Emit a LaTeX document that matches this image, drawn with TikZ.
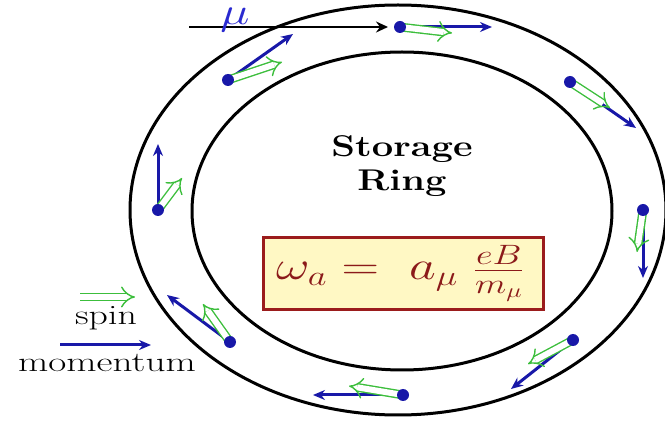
\RequirePackage{fix-cm}
\documentclass[tikz,border=0pt]{standalone}
\usepackage{amsmath}
\usetikzlibrary{arrows.meta}
\definecolor{mblue}{HTML}{1818A8}
\definecolor{mugreen}{HTML}{3CBE3C}
\definecolor{boxred}{HTML}{9B1C1C}
\definecolor{boxfill}{HTML}{FFF8C4}
\definecolor{txtred}{HTML}{8B1A1A}
\definecolor{mublue}{HTML}{2A2AD0}
\tikzset{
  ring/.style={line width=3pt, draw=black},
  mom/.style={draw=mblue, line width=3pt, -{Stealth[length=12pt,width=10pt]}},
  spinar/.style={draw=mugreen, double=white, double distance=6pt, line width=1.4pt, -{Implies[scale=1.6]}},
  dot/.style={circle, fill=mblue, inner sep=0pt, minimum size=12pt},
  beam/.style={draw=black, line width=2.8pt, -{Stealth[length=12pt,width=11pt,inset=4pt]}},
  lbl/.style={inner sep=0pt, anchor=base}
}
\begin{document}
\begin{tikzpicture}[x=1pt,y=-1pt]
\useasboundingbox (0,0) rectangle (665,422);
% rings
\draw[ring] (398,210) ellipse [x radius=268, y radius=205];
\draw[ring] (402,211) ellipse [x radius=210, y radius=159];
% incoming beam
\coordinate (bs) at (189,27);
\coordinate (be) at (388,27);
\draw[beam] (bs) -- (be);
\node[lbl, text=mublue] (mu) at (235,25) {\scalebox{1.3}[1]{\fontsize{38}{44}\selectfont$\mu$}};
% dot positions, momentum tips, spin tips
\coordinate (p1) at (400,27);  \coordinate (m1) at (492,27);  \coordinate (s1) at (452,33);
\coordinate (p2) at (228,80);  \coordinate (m2) at (293,34);  \coordinate (s2) at (282,62);
\coordinate (p3) at (570,82);  \coordinate (m3) at (636,128); \coordinate (s3) at (610,108);
\coordinate (p4) at (643,210); \coordinate (m4) at (643,278); \coordinate (s4) at (637,252);
\coordinate (p5) at (573,340); \coordinate (m5) at (511,389); \coordinate (s5) at (528,364);
\coordinate (p6) at (403,395); \coordinate (m6) at (313,395); \coordinate (s6) at (349,386);
\coordinate (p7) at (230,342); \coordinate (m7) at (167,295); \coordinate (s7) at (203,304);
\coordinate (p8) at (158,210); \coordinate (m8) at (158,144); \coordinate (s8) at (182,178);
\foreach \i in {1,...,8}{
  \draw[mom] (p\i) -- (m\i);
  \draw[spinar] (p\i) -- (s\i);
  \node[dot] (d\i) at (p\i) {};
}
% center text
\node[lbl] (st) at (402,157) {\scalebox{1.27}[1]{\fontsize{30}{36}\selectfont\bfseries Storage}};
\node[lbl] (rg) at (402,191) {\scalebox{1.27}[1]{\fontsize{30}{36}\selectfont\bfseries Ring}};
% formula box
\node[draw=boxred, fill=boxfill, line width=3pt, minimum width=280pt, minimum height=72pt, inner sep=0pt] (box) at (403,274) {};
\node[text=txtred, lbl] (fm) at (400,280) {\scalebox{1.3}[1]{\fontsize{40}{48}\selectfont$\omega_a =\ a_\mu\ \frac{eB}{m_\mu}$}};
% legend
\coordinate (ls) at (80,297);  \coordinate (le) at (135,297);
\draw[spinar] (ls) -- (le);
\node[lbl] (spin) at (106,325) {\scalebox{1.35}[1]{\fontsize{28}{34}\selectfont spin}};
\coordinate (ms) at (60,345);  \coordinate (me) at (151,345);
\draw[mom] (ms) -- (me);
\node[lbl] (mom) at (107,372) {\scalebox{1.4}[1]{\fontsize{28}{34}\selectfont momentum}};
\end{tikzpicture}
\end{document}
